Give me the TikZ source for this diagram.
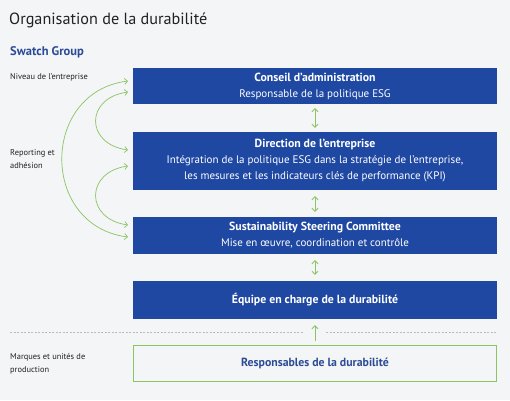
\documentclass[tikz,border=0pt]{standalone}
\usepackage{fontspec}
\setmainfont{PT Sans}
\usetikzlibrary{arrows.meta}
\definecolor{bg}{HTML}{F3F5F6}
\definecolor{boxblue}{HTML}{1F48A3}
\definecolor{darkblue}{HTML}{2B4B96}
\definecolor{arrgreen}{HTML}{8CC463}
\definecolor{txt}{HTML}{222222}
\definecolor{dashgrey}{HTML}{B5BCC4}
\tikzset{
  bluebox/.style={rectangle, fill=boxblue, text=white, minimum width=364pt, inner sep=0pt, align=center, font=\fontsize{11}{16}\selectfont},
  greenbox/.style={rectangle, draw=arrgreen, line width=0.8pt, fill=bg, text=darkblue, minimum width=363pt, minimum height=36pt, inner sep=0pt, align=center, font=\fontsize{11.8}{16}\selectfont\bfseries},
  link/.style={draw=arrgreen, line width=0.8pt, {Straight Barb[length=3pt,width=6pt]}-{Straight Barb[length=3pt,width=6pt]}},
  uplink/.style={draw=arrgreen, line width=0.8pt, -{Straight Barb[length=3pt,width=6pt]}},
  curve/.style={draw=arrgreen, line width=0.7pt, {Straight Barb[length=3pt,width=6pt]}-{Straight Barb[length=3pt,width=6pt]}},
  side/.style={anchor=west, text=txt, align=left, inner sep=0pt, font=\fontsize{8.4}{13}\selectfont},
  sep/.style={draw=dashgrey, line width=0.6pt, dash pattern=on 2pt off 1.5pt}
}
\newcommand{\bt}[1]{{\fontsize{11.8}{16}\selectfont\bfseries #1}}
\begin{document}
\begin{tikzpicture}[x=1pt,y=-1pt]
\fill[bg] (0,0) rectangle (510,400);
\useasboundingbox (0,0) rectangle (510,400);

\node[anchor=west, inner sep=0pt, text=txt, font=\fontsize{16.2}{18}\selectfont] (title) at (9,20) {Organisation de la durabilité};
\node[anchor=west, inner sep=0pt, text=darkblue, font=\fontsize{12.5}{14}\selectfont\bfseries] (group) at (10,52) {Swatch Group};
\node[side] (niveau) at (10,77) {Niveau de l'entreprise};
\node[side] (reporting) at (10,159) {Reporting et\\adhésion};
\node[side] (marques) at (10,364) {Marques et unités de\\production};

\node[bluebox, minimum height=36pt] (b1) at (315,86) {\bt{Conseil d'administration}\\Responsable de la politique ESG};
\node[bluebox, minimum height=58pt] (b2) at (315,161) {\bt{Direction de l'entreprise}\\Intégration de la politique ESG dans la stratégie de l'entreprise,\\les mesures et les indicateurs clés de performance (KPI)};
\node[bluebox, minimum height=37pt] (b3) at (315,235.5) {\bt{Sustainability Steering Committee}\\Mise en œuvre, coordination et contrôle};
\node[bluebox, minimum height=38pt] (b4) at (315,300) {\bt{Équipe en charge de la durabilité}};
\node[greenbox] (b5) at (315,363) {Responsables de la durabilité};

\draw[link, shorten <=4pt, shorten >=4pt] (b1.south) -- (b2.north);
\draw[link, shorten <=6pt, shorten >=5pt] (b2.south) -- (b3.north);
\draw[link, shorten <=6pt, shorten >=6pt] (b3.south) -- (b4.north);
\draw[uplink, shorten <=4pt, shorten >=6pt] (b5.north) -- (b4.south);

\coordinate (sl) at (10,332);
\coordinate (sm1) at (304,332);
\coordinate (sm2) at (326,332);
\coordinate (sr) at (497,332);
\draw[sep] (sl) -- (sm1);
\draw[sep] (sm2) -- (sr);

\coordinate (o1) at (128,81);
\coordinate (o2) at (128,237);
\coordinate (i1) at (128,92);
\coordinate (i2) at (128,150);
\coordinate (j1) at (128,166);
\coordinate (j2) at (128,225);
\draw[curve] (o1) .. controls (40,92) and (40,226) .. (o2);
\draw[curve] (i1) .. controls (85,98) and (85,144) .. (i2);
\draw[curve] (j1) .. controls (85,172) and (85,219) .. (j2);
\end{tikzpicture}
\end{document}
